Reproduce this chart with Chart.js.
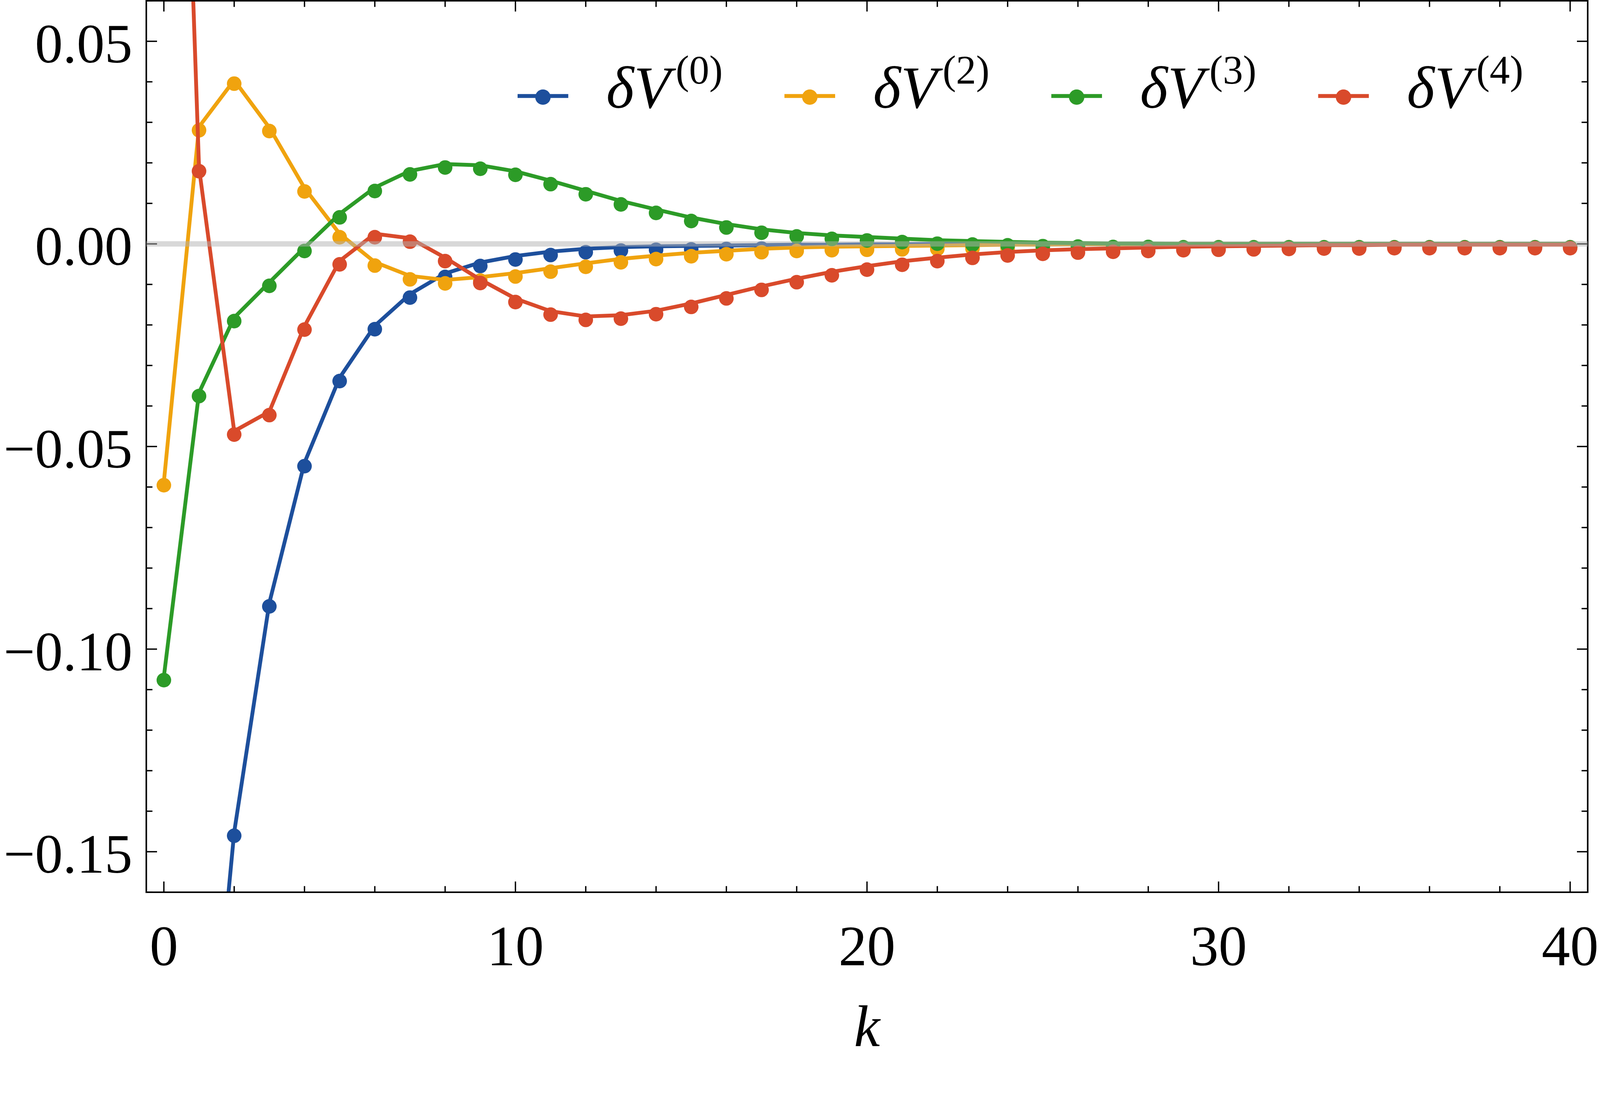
<!DOCTYPE html>
<html>
<head>
<meta charset="utf-8">
<title>δV(k)</title>
<script src="https://cdn.jsdelivr.net/npm/chart.js@4.4.1/dist/chart.umd.min.js"></script>
<style>
  html, body { margin: 0; padding: 0; background: #fff; overflow: hidden; }
  canvas { display: block; }
</style>
</head>
<body>
<canvas id="chart"></canvas>
<script>
// valores (linha de cada série)
var kValues = [0, 1, 2, 3, 4, 5, 6, 7, 8, 9, 10, 11, 12, 13, 14, 15, 16, 17, 18, 19, 20,
  21, 22, 23, 24, 25, 26, 27, 28, 29, 30, 31, 32, 33, 34, 35, 36, 37, 38, 39, 40];

var dV0 = [-0.38, -0.237, -0.1452, -0.0886, -0.0540, -0.0330, -0.0202, -0.0124, -0.0073, -0.0046,
  -0.0030, -0.0019, -0.0012, -0.0008, -0.0006, -0.0005, -0.0004, -0.0003, -0.0002, -0.0002,
  -0.0001, -0.0001, 0, 0, 0, 0, 0, 0, 0, 0, 0, 0, 0, 0, 0, 0, 0, 0, 0, 0, 0];

var dV2 = [-0.0587, 0.0289, 0.0404, 0.0287, 0.0138, 0.0025, -0.0045, -0.0079, -0.0089, -0.0082,
  -0.0072, -0.0060, -0.0048, -0.0037, -0.0029, -0.0022, -0.0017, -0.0012, -0.0009, -0.0007,
  -0.0006, -0.0005, -0.0004, -0.0003, -0.0002, -0.0002, -0.0001, -0.0001, 0, 0, 0, 0, 0, 0, 0,
  0, 0, 0, 0, 0, 0];

var dV3 = [-0.1068, -0.0367, -0.0182, -0.0095, -0.0009, 0.0074, 0.0139, 0.0180, 0.0197, 0.0194,
  0.0179, 0.0156, 0.0131, 0.0106, 0.0085, 0.0065, 0.0049, 0.0036, 0.0027, 0.0021,
  0.0017, 0.0013, 0.0009, 0.0007, 0.0005, 0.0003, 0.0002, 0.0001, 0.0001, 0, 0, 0, 0, 0, 0,
  0, 0, 0, 0, 0, 0];

var dV4 = [0.27, 0.0188, -0.0462, -0.0414, -0.0203, -0.0042, 0.0025, 0.0014, -0.0034, -0.0088,
  -0.0135, -0.0166, -0.0179, -0.0176, -0.0165, -0.0147, -0.0126, -0.0105, -0.0086, -0.0069,
  -0.0055, -0.0043, -0.0034, -0.0026, -0.0020, -0.0016, -0.0013, -0.0011, -0.0009, -0.0007,
  -0.0006, -0.0005, -0.0004, -0.0003, -0.0003, -0.0002, -0.0002, -0.0002, -0.0002, -0.0002, -0.0002];

var seriesLabels = ['δV', 'δV', 'δV', 'δV'];
var seriesSups = ['(0)', '(2)', '(3)', '(4)'];

var xMajorTicks = [0, 10, 20, 30, 40];
var xMinorTicks = [2, 4, 6, 8, 12, 14, 16, 18, 22, 24, 26, 28, 32, 34, 36, 38];
var yMajorTicks = [-0.15, -0.10, -0.05, 0, 0.05];
var yMinorTicks = [-0.16, -0.14, -0.13, -0.12, -0.11, -0.09, -0.08, -0.07, -0.06,
  -0.04, -0.03, -0.02, -0.01, 0.01, 0.02, 0.03, 0.04, 0.06];

(function () {
  'use strict';
  var SERIF = '"Liberation Serif", "Times New Roman", serif';
  var colors = ['#1d4f9c', '#f0a30e', '#2c9b27', '#d94a2b'];
  var series = [dV0, dV2, dV3, dV4];

  // medidas pensadas para 4167x2798; escala para a janela real
  var W = 4167, H = 2798;
  var S = Math.min(window.innerWidth / W, window.innerHeight / H) || 1;
  function p(v) { return v * S; }

  var canvas = document.getElementById('chart');
  canvas.width = Math.round(W * S);
  canvas.height = Math.round(H * S);

  function pts(vals) { return kValues.map(function (k, i) { return { x: k, y: vals[i] }; }); }

  // linha e marcadores em datasets separados (os marcadores saem um pouco abaixo, como no original)
  var datasets = [];
  series.forEach(function (vals, i) {
    datasets.push({
      label: seriesLabels[i] + seriesSups[i], data: pts(vals),
      borderColor: colors[i], borderWidth: p(10), pointRadius: 0, tension: 0,
      clip: 0, order: 2 * (3 - i) + 1
    });
    datasets.push({
      label: seriesLabels[i] + seriesSups[i] + ' pts', data: pts(vals), showLine: false,
      pointRadius: p(19), pointBackgroundColor: colors[i], pointBorderWidth: 0,
      clip: 0, order: 2 * (3 - i), markerShift: p(9)
    });
  });

  var shiftPlugin = {
    id: 'markerShift',
    beforeDatasetDraw: function (chart, args) {
      var ds = chart.data.datasets[args.index];
      chart.ctx.save();
      if (ds.markerShift) chart.ctx.translate(0, ds.markerShift);
    },
    afterDatasetDraw: function (chart) { chart.ctx.restore(); }
  };

  function isIn(list, v) { return list.some(function (t) { return Math.abs(t - v) < 1e-9; }); }

  var framePlugin = {
    id: 'frameTicks',
    afterDatasetsDraw: function (chart) {
      var ctx = chart.ctx, a = chart.chartArea, xs = chart.scales.x, ys = chart.scales.y;
      function seg(x1, y1, x2, y2) { ctx.beginPath(); ctx.moveTo(x1, y1); ctx.lineTo(x2, y2); ctx.stroke(); }
      ctx.save();
      ctx.strokeStyle = '#000'; ctx.lineWidth = p(3.5); ctx.lineCap = 'butt';
      xMajorTicks.concat(xMinorTicks).forEach(function (v) {
        var px = xs.getPixelForValue(v), len = p(isIn(xMajorTicks, v) ? 28 : 16);
        seg(px, a.bottom, px, a.bottom - len);
        seg(px, a.top, px, a.top + len);
      });
      yMajorTicks.concat(yMinorTicks).forEach(function (v) {
        var py = ys.getPixelForValue(v), len = p(isIn(yMajorTicks, v) ? 28 : 16);
        seg(a.left, py, a.left + len, py);
        seg(a.right, py, a.right - len, py);
      });
      ctx.lineWidth = p(4);
      ctx.strokeRect(a.left, a.top, a.right - a.left, a.bottom - a.top);
      // linha de referência em zero, por cima de tudo
      var y0 = ys.getPixelForValue(0);
      ctx.strokeStyle = 'rgba(178,178,178,0.5)'; ctx.lineWidth = p(14);
      seg(a.left, y0, a.right, y0);
      ctx.restore();
    }
  };

  var legendPlugin = {
    id: 'mathLegend',
    afterDraw: function (chart) {
      var ctx = chart.ctx;
      var x0 = p(1348), yLine = p(250), step = p(695);
      seriesLabels.forEach(function (lab, i) {
        var x = x0 + i * step;
        ctx.save();
        ctx.strokeStyle = colors[i]; ctx.lineWidth = p(10);
        ctx.beginPath(); ctx.moveTo(x, yLine); ctx.lineTo(x + p(132), yLine); ctx.stroke();
        ctx.fillStyle = colors[i];
        ctx.beginPath(); ctx.arc(x + p(66), yLine + p(3), p(20), 0, 2 * Math.PI); ctx.fill();
        ctx.fillStyle = '#000'; ctx.textAlign = 'left'; ctx.textBaseline = 'alphabetic';
        ctx.font = 'italic ' + p(155) + 'px ' + SERIF;
        var tx = x + p(231);
        ctx.fillText(lab, tx, p(281));
        var w = ctx.measureText(lab).width;
        ctx.font = p(105) + 'px ' + SERIF;
        ctx.fillText(seriesSups[i], tx + w + p(14), p(218));
        ctx.restore();
      });
    }
  };

  // sem folga automática das escalas: a área do gráfico fica onde está no original
  function noPad(s) { s.paddingTop = 0; s.paddingBottom = 0; s.paddingLeft = 0; s.paddingRight = 0; }

  new Chart(canvas.getContext('2d'), {
    type: 'line',
    data: { datasets: datasets },
    options: {
      responsive: false,
      animation: false,
      events: [],
      layout: { autoPadding: false, padding: { left: 0, top: p(2), right: p(32), bottom: 0 } },
      plugins: { legend: { display: false }, tooltip: { enabled: false } },
      scales: {
        x: {
          type: 'linear', min: -0.5, max: 40.5,
          afterBuildTicks: function (s) { s.ticks = xMajorTicks.map(function (v) { return { value: v }; }); },
          afterFit: function (s) { s.height = p(474); noPad(s); },
          grid: { display: false }, border: { display: false },
          ticks: {
            color: '#000', font: { family: SERIF, size: p(148) }, padding: p(54),
            maxRotation: 0, autoSkip: false,
            callback: function (v) { return String(v); }
          },
          title: {
            display: true, text: 'k', color: '#000',
            font: { family: SERIF, size: p(152), style: 'italic' },
            padding: { top: 0, bottom: p(22) }
          }
        },
        y: {
          type: 'linear', min: -0.16, max: 0.06,
          afterBuildTicks: function (s) { s.ticks = yMajorTicks.map(function (v) { return { value: v }; }); },
          afterFit: function (s) { s.width = p(381); noPad(s); },
          grid: { display: false }, border: { display: false },
          ticks: {
            color: '#000', font: { family: SERIF, size: p(145) }, padding: p(28), labelOffset: p(17),
            autoSkip: false,
            callback: function (v) { return Number(v).toFixed(2).replace('-', '\u2212'); }
          }
        }
      }
    },
    plugins: [shiftPlugin, framePlugin, legendPlugin]
  });
})();
</script>
</body>
</html>
